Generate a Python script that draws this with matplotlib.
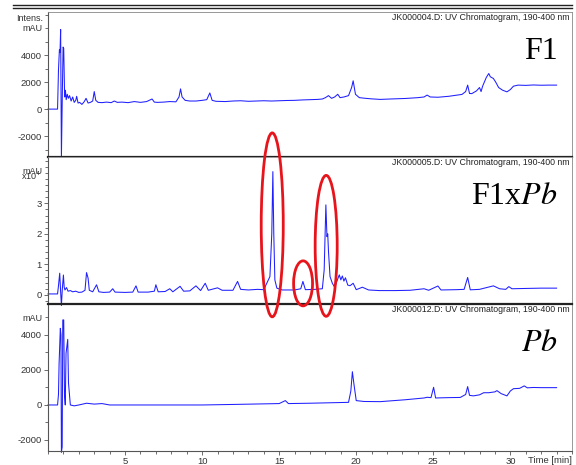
import numpy as np
import matplotlib
matplotlib.use("Agg")
import matplotlib.pyplot as plt
from matplotlib.patches import Ellipse
from matplotlib.lines import Line2D
from matplotlib.ticker import MultipleLocator

plt.rcParams['font.family'] = ['Liberation Sans', 'DejaVu Sans']
plt.rcParams['axes.unicode_minus'] = False

# retention time [min] and intensity [mAU] for each run
f1_time = [0, 0.62, 0.68, 0.74, 0.78, 0.82, 0.87, 0.93, 0.98, 1.02, 1.08, 1.13, 1.18, 1.25,
           1.32, 1.4, 1.5, 1.6, 1.7, 1.8, 1.86, 1.95, 2.05, 2.2, 2.35, 2.47, 2.6, 2.75, 2.9,
           3.0, 3.1, 3.25, 3.5, 3.8, 4.1, 4.3, 4.5, 4.8, 5.2, 5.6, 6.0, 6.4, 6.75, 6.9, 7.1,
           7.5, 7.9, 8.3, 8.5, 8.6, 8.7, 8.9, 9.2, 9.6, 10.0, 10.3, 10.5, 10.65, 10.9, 11.5,
           12.0, 12.5, 13.0, 13.5, 14.0, 14.5, 15.0, 15.5, 16.0, 16.5, 17.0, 17.5, 17.8, 18.0,
           18.2, 18.4, 18.6, 18.8, 18.95, 19.2, 19.5, 19.7, 19.8, 19.95, 20.2, 20.6, 21.0,
           21.56, 22.2, 23.2, 24.0, 24.4, 24.6, 24.8, 25.3, 26.0, 26.86, 27.1, 27.23, 27.35,
           27.5, 27.8, 28.0, 28.1, 28.2, 28.44, 28.6, 28.7, 28.9, 29.05, 29.24, 29.5, 29.78,
           30.0, 30.2, 30.5, 31.0, 31.5, 32.0, 32.5, 33.0]
f1_mau = [0, 0, 2900, 4400, 4200, 5900, -3600, 1200, 4600, 4500, 900, 1400, 700, 1100,
          800, 1000, 600, 900, 500, 650, 950, 450, 500, 350, 550, 800, 450, 500, 600,
          1300, 650, 500, 480, 520, 480, 600, 500, 520, 480, 560, 500, 560, 750, 520, 500,
          520, 560, 540, 900, 1500, 900, 650, 600, 600, 650, 700, 1200, 650, 580, 560,
          600, 620, 580, 600, 620, 600, 620, 640, 650, 680, 700, 720, 750, 850,
          1000, 800, 900, 1100, 850, 900, 1000, 1600, 2100, 1100, 850, 800, 760,
          720, 750, 790, 850, 900, 1040, 900, 880, 950, 1090, 1300, 1780, 1160,
          1150, 1350, 1600, 1300, 1700, 2350, 2640, 2400, 2270, 2000, 1600, 1400, 1280,
          1450, 1700, 1780, 1760, 1790, 1770, 1780, 1780]

f1xpb_time = [0, 0.62, 0.68, 0.76, 0.82, 0.87, 0.93, 1.0, 1.05, 1.1, 1.2, 1.3, 1.45, 1.6,
              1.8, 2.0, 2.2, 2.4, 2.5, 2.6, 2.68, 2.9, 3.15, 3.3, 3.6, 4.0, 4.2, 4.35, 5.0,
              5.5, 5.71, 5.85, 6.5, 6.9, 7.0, 7.15, 7.6, 7.9, 8.1, 8.57, 8.8, 9.2, 9.6, 9.9,
              10.2, 10.4, 11.0, 11.3, 12.0, 12.3, 12.5, 13.0, 13.6, 14.0, 14.4, 14.52, 14.59,
              14.65, 14.72, 14.85, 15.2, 16.0, 16.4, 16.54, 16.7, 17.3, 17.8, 17.92, 18.03,
              18.1, 18.15, 18.2, 18.3, 18.45, 18.6, 18.9, 19.0, 19.1, 19.2, 19.3, 19.45, 19.6,
              19.8, 20.0, 20.4, 20.8, 21.5, 22.5, 23.5, 24.4, 24.7, 25.3, 25.5, 26.5, 27.0,
              27.23, 27.4, 28.0, 28.9, 29.3, 29.7, 29.9, 30.1, 31.0, 32.0, 33.0]
f1xpb_mau = [300, 300, 3000, 7100, 1000, -3500, 2000, 6500, 2500, 1600, 2400, 1200, 1400, 1000,
             1200, 800, 900, 1500, 7300, 5500, 1500, 1000, 3300, 1000, 800, 900, 2000, 900, 800,
             900, 2950, 900, 900, 1200, 3300, 1000, 1100, 2000, 1000, 2800, 1200, 1300, 2950, 1400,
             3800, 1500, 2300, 1500, 1500, 4400, 1800, 1600, 1800, 1700, 6000, 20000, 40400,
             20000, 4900, 2200, 1600, 1600, 2000, 4400, 1700, 1800, 2000, 8200, 29500,
             19100, 20000, 14200, 6000, 3800, 2500, 6560, 4900, 6200, 4500, 5600, 3200, 3000,
             3800, 1700, 2500, 1600, 1400, 1400, 1500, 2000, 1500, 2900, 1600, 1700, 1800,
             5700, 1650, 1800, 2950, 2000, 1800, 2700, 2000, 2100, 2200, 2200]

pb_time = [0, 0.62, 0.68, 0.72, 0.8, 0.84, 0.87, 0.92, 0.96, 1.02, 1.07, 1.12, 1.17, 1.28,
           1.33, 1.45, 1.7, 2.0, 2.5, 3.0, 3.5, 4.0, 5.0, 10.0, 12.0, 15.0, 15.4, 15.6, 17.0,
           18.5, 19.5, 19.65, 19.75, 19.85, 20.0, 20.5, 21.56, 23.2, 24.4, 24.6, 24.85, 25.02,
           25.15, 26.0, 26.75, 27.1, 27.23, 27.35, 27.6, 28.0, 28.27, 28.6, 29.0, 29.13, 29.4,
           29.78, 30.0, 30.2, 30.6, 30.9, 31.1, 31.5, 32.0, 33.0]
pb_mau = [0, 0, 600, 2380, 4380, 4000, -2700, -2400, 4860, 4860, 600, 0, 2950, 3750,
          1250, 0, -50, 0, 100, 50, 80, 0, 0, 0, 30, 80, 250, 80, 100,
          130, 150, 800, 1900, 1200, 250, 200, 190, 300, 400, 440, 420, 1010,
          400, 420, 430, 600, 1050, 550, 520, 580, 700, 700, 750, 820, 650,
          520, 800, 930, 950, 1090, 980, 1000, 990, 990]

file_names = ["JK000004.D", "JK000005.D", "JK000012.D"]
sample_labels = ["F1", r"F1x$\it{Pb}$", r"$\it{Pb}$"]
marked_peaks = [14.55, 16.55, 18.05]
marked_mau = [22950, 3770, 16070]

trace_color = "#1f1fff"
gray = "#555555"


def draw_panel(ax, t, v, file_name, label, ylim):
    ax.plot(t, v, color=trace_color, lw=0.75, clip_on=False)
    ax.set_xlim(0, 34)
    ax.set_ylim(*ylim)
    for s in ["left", "bottom"]:
        ax.spines[s].set_color(gray)
        ax.spines[s].set_linewidth(0.8)
    for s in ["right", "top"]:
        ax.spines[s].set_color("#888888")
        ax.spines[s].set_linewidth(0.6)
    ax.tick_params(axis="y", which="major", length=3, width=0.6, color=gray,
                   labelsize=6.8, labelcolor="#333333", pad=1.5)
    ax.tick_params(axis="y", which="minor", length=2, width=0.6, color=gray)
    ax.text(0.995, 0.995, file_name + ": UV Chromatogram, 190-400 nm",
            transform=ax.transAxes, ha="right", va="top", fontsize=6.3, color="#222222")
    ax.text(0.972, 0.73, label, transform=ax.transAxes, ha="right", va="center",
            fontsize=23, family="Liberation Serif", math_fontfamily="stix")
    return


fig = plt.figure(figsize=(5.76, 4.65), dpi=100)
L, W = 48 / 576, 524 / 576
ax1 = fig.add_axes([L, 1 - 157 / 465, W, 145 / 465])
ax2 = fig.add_axes([L, 1 - 304 / 465, W, 147 / 465])
ax3 = fig.add_axes([L, 1 - 451 / 465, W, 147 / 465])

draw_panel(ax1, f1_time, f1_mau, file_names[0], sample_labels[0], (-3550, 7200))
draw_panel(ax2, f1xpb_time, f1xpb_mau, file_names[1], sample_labels[1], (-3000, 45200))
draw_panel(ax3, pb_time, pb_mau, file_names[2], sample_labels[2], (-2630, 5770))

for ax in (ax1, ax3):
    ax.set_yticks([-2000, 0, 2000, 4000])
    ax.yaxis.set_minor_locator(MultipleLocator(1000))
ax2.set_yticks([0, 10000, 20000, 30000])
ax2.set_yticklabels(["0", "1", "2", "3"])
ax2.yaxis.set_minor_locator(MultipleLocator(2000))

for ax in (ax1, ax2):
    ax.tick_params(axis="x", which="both", bottom=False, labelbottom=False)
    ax.spines["bottom"].set_color("#222222")
    ax.spines["bottom"].set_linewidth(1.6)

ax3.set_xticks([5, 10, 15, 20, 25, 30])
ax3.xaxis.set_minor_locator(MultipleLocator(1))
ax3.tick_params(axis="x", which="major", length=3, width=0.6, color=gray,
                labelsize=6.8, labelcolor="#333333", pad=1.5)
ax3.tick_params(axis="x", which="minor", length=2, width=0.6, color=gray)
ax3.text(1.0, -0.035, "Time [min]", transform=ax3.transAxes, ha="right", va="top",
         fontsize=6.8, color="#333333")

# axis unit labels
ax1.text(-0.01, 0.985, "Intens.\nmAU", transform=ax1.transAxes, ha="right", va="top",
         fontsize=6.5, color="#333333", linespacing=1.1)
ax2.text(-0.01, 40500, "mAU", transform=ax2.get_yaxis_transform(), ha="right",
         va="center", fontsize=6.5, color="#333333")
ax2.text(-0.012, 39000, r"x10$^4$", transform=ax2.get_yaxis_transform(), ha="right",
         va="center", fontsize=6.5, color="#333333")
ax3.text(-0.01, 0.9, "mAU", transform=ax3.transAxes, ha="right", va="center",
         fontsize=6.5, color="#333333")

# red rings round the peaks of interest
ring_w = [1.43, 1.23, 1.43]
ring_h = [60300, 14750, 46200]
for t0, y0, w, h in zip(marked_peaks, marked_mau, ring_w, ring_h):
    ax2.add_patch(Ellipse((t0, y0), w, h, fill=False, edgecolor="#e8141c", lw=2.0,
                          clip_on=False, zorder=5))
ax2.set_zorder(3)

# double rule along the top
for y in (5.5 / 465, 8.5 / 465):
    fig.add_artist(Line2D([13 / 576, 572 / 576], [1 - y, 1 - y], color="#222222", lw=1.0))

fig.savefig("out.png", dpi=100)
